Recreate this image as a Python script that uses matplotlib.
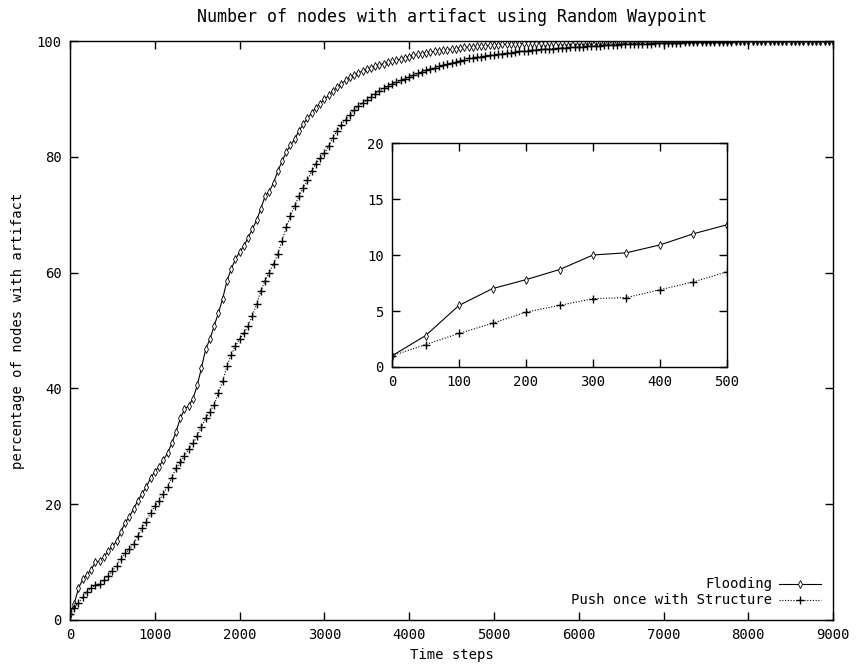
import numpy as np
import matplotlib.pyplot as plt

# time steps (one sample every 50 steps)
steps = np.arange(0, 9001, 50)

flooding = [
    1.0, 2.8, 5.5, 7.0, 7.8, 8.7, 10.0, 10.2, 10.9, 11.9,
    12.7, 13.6, 15.2, 16.8, 17.8, 19.2, 20.6, 21.8, 23.0, 24.5,
    25.6, 26.5, 27.6, 28.8, 30.5, 32.5, 34.8, 36.4, 37.0, 38.2,
    40.5, 43.5, 46.8, 48.5, 50.8, 53.0, 55.5, 58.5, 60.6, 62.3,
    63.5, 64.6, 66.0, 67.5, 69.0, 71.0, 73.2, 74.0, 75.5, 77.5,
    79.2, 80.8, 82.0, 83.0, 84.5, 85.6, 86.7, 87.5, 88.5, 89.2,
    89.9, 90.6, 91.3, 92.0, 92.6, 93.2, 93.7, 94.1, 94.5, 94.8,
    95.1, 95.4, 95.7, 95.9, 96.1, 96.3, 96.5, 96.7, 96.9, 97.1,
    97.3, 97.5, 97.7, 97.8, 98.0, 98.1, 98.2, 98.3, 98.4, 98.5,
    98.6, 98.7, 98.8, 98.9, 98.95, 99.0, 99.1, 99.15, 99.2, 99.25,
    99.3, 99.35, 99.4, 99.45, 99.5, 99.5, 99.55, 99.6, 99.6, 99.65,
    99.7, 99.7, 99.7, 99.75, 99.75, 99.8, 99.8, 99.8, 99.85, 99.85,
    99.85, 99.9, 99.9, 99.9, 99.9, 99.9, 99.9, 99.9, 99.9, 99.9,
    99.9, 99.95, 99.95, 99.95, 99.95, 99.95, 99.95, 99.95, 99.95, 99.95,
    99.95, 100, 100, 100, 100, 100, 100, 100, 100, 100,
    100, 100, 100, 100, 100, 100, 100, 100, 100, 100,
    100, 100, 100, 100, 100, 100, 100, 100, 100, 100,
    100, 100, 100, 100, 100, 100, 100, 100, 100, 100,
    100,
]

push_structure = [
    1.0, 2.0, 3.0, 3.9, 4.9, 5.5, 6.1, 6.2, 6.9, 7.6,
    8.5, 9.4, 10.6, 11.5, 12.2, 13.2, 14.5, 15.8, 17.0, 18.5,
    19.6, 20.6, 21.8, 23.0, 24.6, 26.2, 27.2, 28.3, 29.5, 30.5,
    31.8, 33.4, 34.8, 36.0, 37.2, 39.2, 41.2, 43.8, 45.8, 47.3,
    48.5, 49.5, 50.8, 52.5, 54.5, 56.8, 58.6, 60.0, 61.5, 63.2,
    65.5, 67.8, 69.8, 71.5, 73.2, 74.6, 76.0, 77.5, 78.8, 79.8,
    80.6, 81.8, 83.3, 84.5, 85.5, 86.4, 87.2, 88.0, 88.7, 89.3,
    89.8, 90.4, 90.9, 91.4, 91.8, 92.2, 92.6, 92.9, 93.2, 93.5,
    93.8, 94.1, 94.4, 94.7, 95.0, 95.2, 95.4, 95.6, 95.8, 96.0,
    96.2, 96.4, 96.6, 96.8, 97.0, 97.1, 97.2, 97.3, 97.4, 97.5,
    97.6, 97.7, 97.8, 97.9, 98.0, 98.1, 98.2, 98.3, 98.35, 98.4,
    98.5, 98.55, 98.6, 98.65, 98.7, 98.75, 98.8, 98.85, 98.9, 98.95,
    99.0, 99.05, 99.1, 99.15, 99.2, 99.2, 99.25, 99.3, 99.3, 99.35,
    99.4, 99.4, 99.45, 99.45, 99.5, 99.5, 99.55, 99.55, 99.6, 99.6,
    99.65, 99.65, 99.7, 99.7, 99.7, 99.75, 99.75, 99.75, 99.8, 99.8,
    99.8, 99.85, 99.85, 99.85, 99.9, 99.9, 99.9, 99.95, 99.95, 99.95,
    100, 100, 100, 100, 100, 100, 100, 100, 100, 100,
    100, 100, 100, 100, 100, 100, 100, 100, 100, 100,
    100,
]

n_inset = 11  # first 500 steps shown in the inset

plt.rcParams['font.family'] = ['DejaVu Sans Mono']
plt.rcParams['font.size'] = 10
plt.rcParams['axes.linewidth'] = 1.0

fig = plt.figure(figsize=(8.58, 6.68), dpi=100)
ax = fig.add_axes([0.0816, 0.0719, 0.8894, 0.8667])

ax.plot(steps, flooding, color='black', lw=0.8, marker='d', ms=3.8,
        mfc='white', mec='black', mew=0.6, label='Flooding')
ax.plot(steps, push_structure, color='black', lw=0.8, ls=(0, (1, 1.5)),
        marker='+', ms=5.5, mew=1.0, label='Push once with Structure')

ax.set_xlim(0, 9000)
ax.set_ylim(0, 100)
ax.set_xticks(range(0, 9001, 1000))
ax.set_yticks(range(0, 101, 20))
ax.tick_params(direction='in', top=True, right=True, length=6, width=1, pad=6)
ax.set_xlabel('Time steps', labelpad=4)
ax.set_ylabel('percentage of nodes with artifact', labelpad=8)
ax.set_title('Number of nodes with artifact using Random Waypoint', pad=14)

leg = ax.legend(loc='lower right', frameon=False, markerfirst=False,
                handlelength=3.0, borderaxespad=0.5, labelspacing=0.15,
                handletextpad=0.5)

ins = fig.add_axes([0.4569, 0.4506, 0.3904, 0.3353])
ins.plot(steps[:n_inset], flooding[:n_inset], color='black', lw=0.8,
         marker='d', ms=3.8, mfc='white', mec='black', mew=0.6)
ins.plot(steps[:n_inset], push_structure[:n_inset], color='black', lw=0.8,
         ls=(0, (1, 1.5)), marker='+', ms=5.5, mew=1.0)
ins.set_xlim(0, 500)
ins.set_ylim(0, 20)
ins.set_xticks(range(0, 501, 100))
ins.set_yticks(range(0, 21, 5))
ins.tick_params(direction='in', top=True, right=True, length=6, width=1, pad=6)

fig.savefig('out.png', dpi=100)
